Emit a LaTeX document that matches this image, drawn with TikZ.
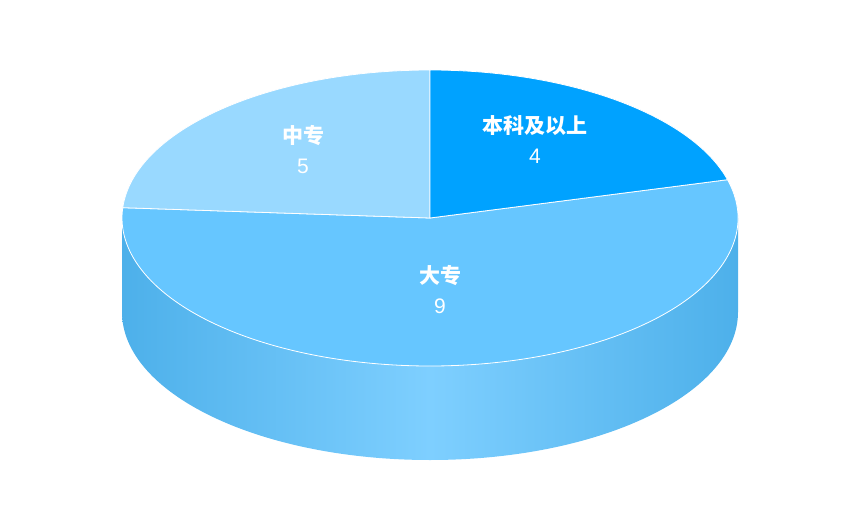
\documentclass[tikz,border=0pt]{standalone}
\usepackage{fontspec}
\newfontfamily\cjk{Noto Sans CJK SC}
\setmainfont{Liberation Sans}
\definecolor{cA}{HTML}{00A2FF}
\definecolor{cB}{HTML}{66C6FF}
\definecolor{cC}{HTML}{99D9FF}
\definecolor{sideD}{HTML}{4DB0EA}
\definecolor{sideL}{HTML}{7ECFFF}
\tikzset{slice/.style={draw=white,line width=0.8pt},
lab/.style={text=white,font=\cjk\fontsize{21}{30}\selectfont\bfseries,align=center}}
\begin{document}
\begin{tikzpicture}[x=1pt,y=-1pt]
\useasboundingbox (0,0) rectangle (860,527);
\coordinate (c) at (430,218);
% side
\path[left color=sideD,right color=sideD,middle color=sideL]
 (c) ++(0:308 and 148) arc (0:180:308 and 148) -- ++(0,94) arc (180:0:308 and 148) -- cycle;
% slices
\path[slice,fill=cB] (c) -- ++(-15:308 and 148) arc (-15:184:308 and 148) -- cycle;
\path[slice,fill=cC] (c) -- ++(184:308 and 148) arc (184:270:308 and 148) -- cycle;
\path[slice,fill=cA] (c) -- ++(-90:308 and 148) arc (-90:-15:308 and 148) -- cycle;
\node[lab] (a) at (535,140) {本科及以上\\{\normalfont\fontsize{21}{25}\selectfont 4}};
\node[lab] (b) at (303,150) {中专\\{\normalfont\fontsize{21}{25}\selectfont 5}};
\node[lab] (d) at (440,290) {大专\\{\normalfont\fontsize{21}{25}\selectfont 9}};
\end{tikzpicture}
\end{document}
